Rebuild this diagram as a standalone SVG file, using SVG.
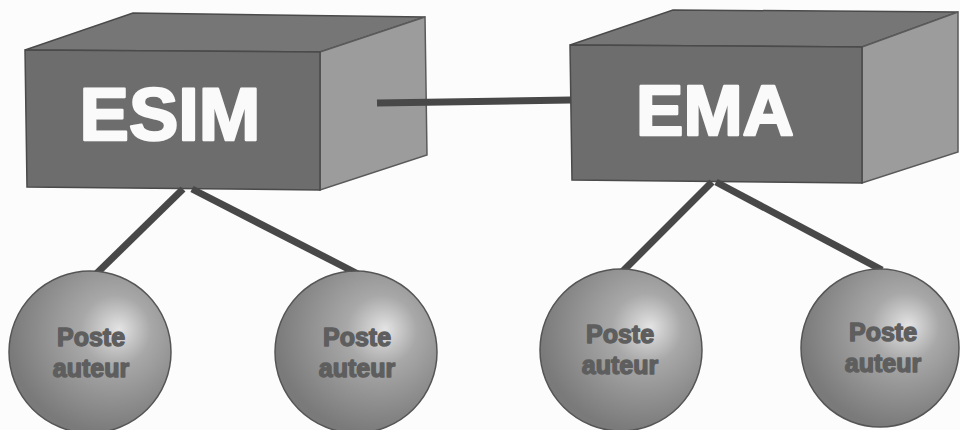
<svg xmlns="http://www.w3.org/2000/svg" width="960" height="430" viewBox="0 0 960 430">
<defs>
<radialGradient id="sph" cx="0.62" cy="0.38" r="0.62" fx="0.68" fy="0.36">
<stop offset="0" stop-color="#e4e4e4"/>
<stop offset="0.35" stop-color="#a8a8a8"/>
<stop offset="1" stop-color="#7a7a7a"/>
</radialGradient>
<style>
.front{fill:#6d6d6d;stroke:#4a4a4a;stroke-width:1.5}
.top{fill:#767676;stroke:#4a4a4a;stroke-width:1.5}
.side{fill:#9c9c9c;stroke:#5a5a5a;stroke-width:1.5}
.big{font-family:"Liberation Sans",Arial,sans-serif;font-weight:bold;fill:#fafafa;stroke:#fafafa;stroke-width:2.5;stroke-linejoin:round;text-anchor:middle}
.ball{fill:url(#sph);stroke:#555;stroke-width:1.5}
.small{font-family:"Liberation Sans",Arial,sans-serif;font-weight:bold;font-size:25px;fill:#5e5e5e;stroke:#5e5e5e;stroke-width:1.4;stroke-linejoin:round;text-anchor:middle}
.link{stroke:#484848;stroke-width:7;fill:none}
</style>
</defs>
<rect width="960" height="430" fill="#fcfcfc"/>
<g id="esim">
<polygon class="top" points="25,50 133,13 425,17 320,52"/>
<polygon class="side" points="320,52 425,17 427,155 320,190"/>
<polygon class="front" points="25,50 320,52 320,190 27,187"/>
<text class="big" x="170" y="140" font-size="74">ESIM</text>
</g>
<g id="ema">
<polygon class="top" points="570,45 673,10 958,12 862,47"/>
<polygon class="side" points="862,47 958,12 958,152 862,183"/>
<polygon class="front" points="570,45 862,47 862,183 572,180"/>
<text class="big" x="715" y="135" font-size="71">EMA</text>
</g>
<g id="connectors">
<line class="link" x1="377" y1="103" x2="571" y2="100"/>
<line class="link" x1="183" y1="189" x2="93" y2="277"/>
<line class="link" x1="192" y1="189" x2="358" y2="274"/>
<line class="link" x1="712" y1="182" x2="622" y2="272"/>
<line class="link" x1="716" y1="182" x2="882" y2="270"/>
</g>
<g id="poste1">
<circle class="ball" cx="90" cy="352" r="81"/>
<text class="small" x="91" y="346">Poste</text>
<text class="small" x="91" y="377">auteur</text>
</g>
<g id="poste2">
<circle class="ball" cx="356" cy="352" r="81"/>
<text class="small" x="357" y="346">Poste</text>
<text class="small" x="357" y="377">auteur</text>
</g>
<g id="poste3">
<circle class="ball" cx="621" cy="350" r="81"/>
<text class="small" x="620" y="343">Poste</text>
<text class="small" x="620" y="374">auteur</text>
</g>
<g id="poste4">
<circle class="ball" cx="880" cy="348" r="79"/>
<text class="small" x="883" y="341">Poste</text>
<text class="small" x="883" y="372">auteur</text>
</g>
</svg>
